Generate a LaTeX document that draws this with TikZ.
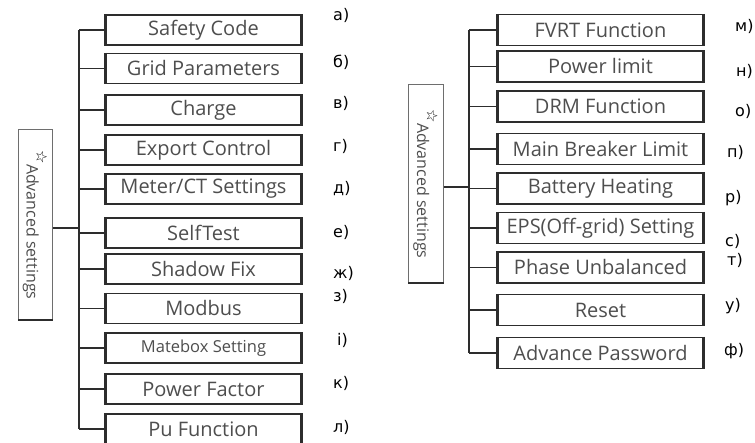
\documentclass[tikz,border=0pt]{standalone}
\usepackage{fontspec}
\setmainfont{Open Sans}
\newfontfamily\labfont{DejaVu Sans}
\definecolor{txt}{RGB}{78,78,78}
\definecolor{ln}{RGB}{45,45,45}
\definecolor{advln}{RGB}{110,110,110}
\begin{document}
\begin{tikzpicture}[x=1pt,y=-1pt,
  itemL/.style={draw=ln, line width=1.2pt, minimum width=195pt, minimum height=30pt, inner sep=0pt, text=txt, font=\fontsize{20}{20}\selectfont},
  itemR/.style={itemL, minimum width=205pt, minimum height=31pt},
  lab/.style={anchor=west, inner sep=0pt, font=\labfont\fontsize{16}{16}\selectfont},
  conn/.style={draw=ln, line width=1.2pt},
  sidebar/.style={draw=ln, line width=2.4pt},
  advbox/.style={draw=advln, line width=1pt, inner sep=0pt, rotate=-90, text=txt, font=\fontsize{16}{16}\selectfont}]
\useasboundingbox (0,0) rectangle (755,443);
\clip (0,0) rectangle (755,443);
\fill[white] (0,0) rectangle (755,443);

% ---- left column ----
\node[advbox, minimum width=190pt, minimum height=34pt] (advL) at (35,225) {\raisebox{0.6em}{\color{black}\labfont\fontsize{15}{15}\selectfont ☆}Advanced settings};
\node[itemL] (b1) at (203.5,30) {Safety Code};
\node[itemL] (b2) at (203.5,68.5) {Grid Parameters};
\node[itemL] (b3) at (203.5,110) {Charge};
\node[itemL] (b4) at (203.5,150) {Export Control};
\node[itemL] (b5) at (203.5,189) {Meter/CT Settings};
\node[itemL] (b6) at (203.5,233) {Self\hspace{1pt}Test};
\node[itemL] (b7) at (203.5,269) {Shadow Fix};
\node[itemL] (b8) at (203.5,308.5) {Modbus};
\node[itemL, font=\fontsize{16.5}{16.5}\selectfont] (b9) at (203.5,348) {Matebox Setting};
\node[itemL] (b10) at (203.5,389) {Power Factor};
\node[itemL] (b11) at (203.5,429) {Pu Function};
\coordinate (tL) at (79,0);

\foreach \n in {b1,b2,b3,b4,b5,b6,b7,b8,b9,b10,b11}{
  \draw[conn] (\n.west) -- (\n.west -| tL);
  \draw[sidebar] (\n.north west) -- (\n.south west) (\n.north east) -- (\n.south east);
}
\draw[conn] (b1.west -| tL) -- (b11.west -| tL);
\draw[conn] ([yshift=-3pt]advL.north) -- ([yshift=-3pt]advL.north -| tL);
\draw[draw=ln, line width=2pt] (advL.north east) -- (advL.south east);

\node[lab] (la1) at (333,15) {а)};
\node[lab] (la2) at (333,62) {б)};
\node[lab] (la3) at (333,103) {в)};
\node[lab] (la4) at (333,146) {г)};
\node[lab] (la5) at (333,189) {д)};
\node[lab] (la6) at (333,232) {е)};
\node[lab] (la7) at (333,273) {ж)};
\node[lab] (la8) at (333,296) {з)};
\node[lab] (la9) at (337,340) {і)};
\node[lab] (la10) at (333,383) {к)};
\node[lab] (la11) at (333,427) {л)};

% ---- right column ----
\node[advbox, minimum width=198pt, minimum height=35pt] (advR) at (425.5,184) {\raisebox{0.6em}{\color{black}\labfont\fontsize{15}{15}\selectfont ☆}Advanced settings};
\node[itemR] (c1) at (600.5,30) {FVRT Function};
\node[itemR] (c2) at (600.5,66.5) {Power limit};
\node[itemR] (c3) at (600.5,106.5) {DRM Function};
\node[itemR] (c4) at (600.5,149) {Main Breaker Limit};
\node[itemR] (c5) at (600.5,188.5) {Battery Heating};
\node[itemR] (c6) at (600.5,228) {EPS(Off-grid) Setting};
\node[itemR] (c7) at (600.5,267.5) {Phase Unbalanced};
\node[itemR] (c8) at (600.5,310) {Reset};
\node[itemR] (c9) at (600.5,353) {Advance Password};
\coordinate (tR) at (469,0);

\foreach \n in {c1,c2,c3,c4,c5,c6,c7,c8,c9}{
  \draw[conn] (\n.west) -- (\n.west -| tR);
  \draw[sidebar] (\n.north west) -- (\n.south west) (\n.north east) -- (\n.south east);
}
\draw[conn] (c1.west -| tR) -- (c9.west -| tR);
\draw[conn] ([yshift=-3pt]advR.north) -- ([yshift=-3pt]advR.north -| tR);
\draw[draw=ln, line width=2pt] (advR.north east) -- (advR.south east);

\node[lab] (lb1) at (735,26) {м)};
\node[lab] (lb2) at (736,71) {н)};
\node[lab] (lb3) at (735,111) {о)};
\node[lab] (lb4) at (727,152) {п)};
\node[lab] (lb5) at (725,198) {р)};
\node[lab] (lb6) at (725,241) {с)};
\node[lab] (lb7) at (727,260) {т)};
\node[lab] (lb8) at (725,306) {у)};
\node[lab] (lb9) at (724,351) {ф)};
\end{tikzpicture}
\end{document}
